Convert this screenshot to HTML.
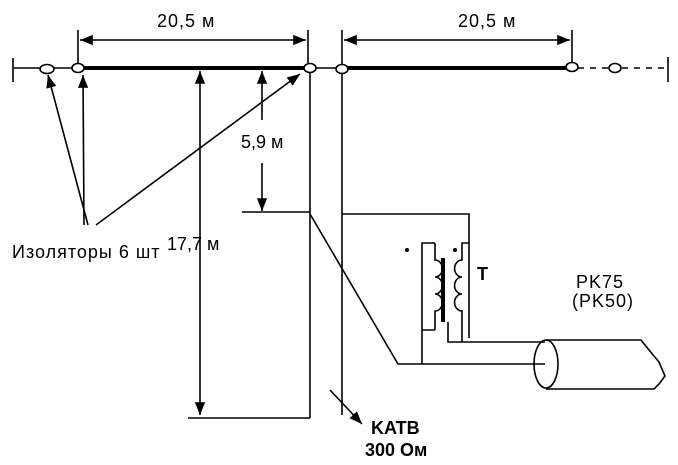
<!DOCTYPE html><html><head><style>body{margin:0;background:#fff;position:relative;width:678px;height:465px;overflow:hidden}svg{display:block;position:absolute;left:0;top:0}.t{position:absolute;font-family:"Liberation Sans",sans-serif;font-size:18px;line-height:20px;color:#000;white-space:nowrap}.b{font-weight:bold}</style></head><body>
<svg width="678" height="465" viewBox="0 0 678 465">
<defs><marker id="a" viewBox="0 0 10 10" refX="10" refY="5" markerWidth="8" markerHeight="8" orient="auto-start-reverse"><path d="M0,1L10,5L0,9z" fill="#000"/></marker></defs>
<g stroke="#000" fill="none" stroke-width="1.6">
<line x1="13" y1="58" x2="13" y2="82"/><line x1="13" y1="68" x2="40" y2="68"/><line x1="54" y1="68" x2="72" y2="68"/>
<line x1="84" y1="68" x2="304" y2="68" stroke-width="4"/><line x1="316" y1="68" x2="336" y2="68"/>
<line x1="348" y1="68" x2="566" y2="68" stroke-width="4"/>
<line x1="578" y1="68" x2="608" y2="68" stroke-dasharray="6,6"/><line x1="622" y1="68" x2="668" y2="68" stroke-dasharray="6,6"/>
<line x1="668" y1="57" x2="668" y2="82"/>
<ellipse cx="47" cy="69" rx="7" ry="4.5" fill="#fff"/><ellipse cx="78" cy="68" rx="6" ry="4.5" fill="#fff"/>
<ellipse cx="310" cy="68" rx="6" ry="4.5" fill="#fff"/><ellipse cx="342" cy="69" rx="6" ry="4.5" fill="#fff"/>
<ellipse cx="572" cy="67" rx="6" ry="4.5" fill="#fff"/><ellipse cx="615" cy="68" rx="6" ry="4.5" fill="#fff"/>
<line x1="78" y1="30" x2="78" y2="64"/><line x1="308" y1="30" x2="308" y2="64"/><line x1="342" y1="30" x2="342" y2="64"/><line x1="572" y1="30" x2="572" y2="63"/>
<line x1="80" y1="40" x2="306" y2="40" marker-start="url(#a)" marker-end="url(#a)"/>
<line x1="344" y1="40" x2="570" y2="40" marker-start="url(#a)" marker-end="url(#a)"/>
<line x1="310" y1="73" x2="310" y2="418"/><line x1="342" y1="74" x2="342" y2="415"/>
<line x1="188" y1="418" x2="310" y2="418"/>
<line x1="200" y1="415" x2="200" y2="71" marker-start="url(#a)" marker-end="url(#a)"/>
<line x1="262" y1="120" x2="262" y2="71" marker-end="url(#a)"/><line x1="262" y1="163" x2="262" y2="211" marker-end="url(#a)"/>
<line x1="242" y1="212" x2="310" y2="212"/>
<line x1="88" y1="225" x2="48" y2="75" marker-end="url(#a)"/><line x1="84" y1="225" x2="83" y2="75" marker-end="url(#a)"/>
<line x1="96" y1="225" x2="300" y2="74" marker-end="url(#a)"/>
<path d="M342 214H469V338"/>
<path d="M310 214L398 364H545"/>
<path d="M422 364V243H435M435 243V260a7 8 0 0 1 0 17a7 8 0 0 1 0 17a7 8 0 0 1 0 17V330M422 330H435"/>
<path d="M469 243H462V260a7 8 0 0 0 0 17a7 8 0 0 0 0 17a7 8 0 0 0 0 17V330H462"/>
<line x1="443" y1="258" x2="443" y2="322" stroke-width="4"/>
<path d="M448 322V342H545M462 330V342"/>
<ellipse cx="546" cy="364" rx="12" ry="24"/>
<path d="M546 340H641l8 10l10 12l6 14l-6 8l-5 5H546"/>
<line x1="330" y1="390" x2="362" y2="424" marker-end="url(#a)"/>
</g>
<circle cx="407" cy="250" r="2" fill="#000"/><circle cx="455" cy="250" r="2" fill="#000"/>
</svg>
<div class="t" style="left:157px;top:11px;letter-spacing:1px">20,5 м</div>
<div class="t" style="left:458px;top:11px;letter-spacing:1px">20,5 м</div>
<div class="t" style="left:241px;top:132px">5,9 м</div>
<div class="t" style="left:167px;top:234px">17,7 м</div>
<div class="t" style="left:12px;top:242px;letter-spacing:1px">Изоляторы 6 шт</div>
<div class="t b" style="left:477px;top:264px">T</div>
<div class="t" style="left:576px;top:272px;letter-spacing:1px">PK75</div>
<div class="t" style="left:572px;top:291px;letter-spacing:1px">(PK50)</div>
<div class="t b" style="left:371px;top:418px">KATB</div>
<div class="t b" style="left:365px;top:440px">300 Ом</div>
</body></html>
